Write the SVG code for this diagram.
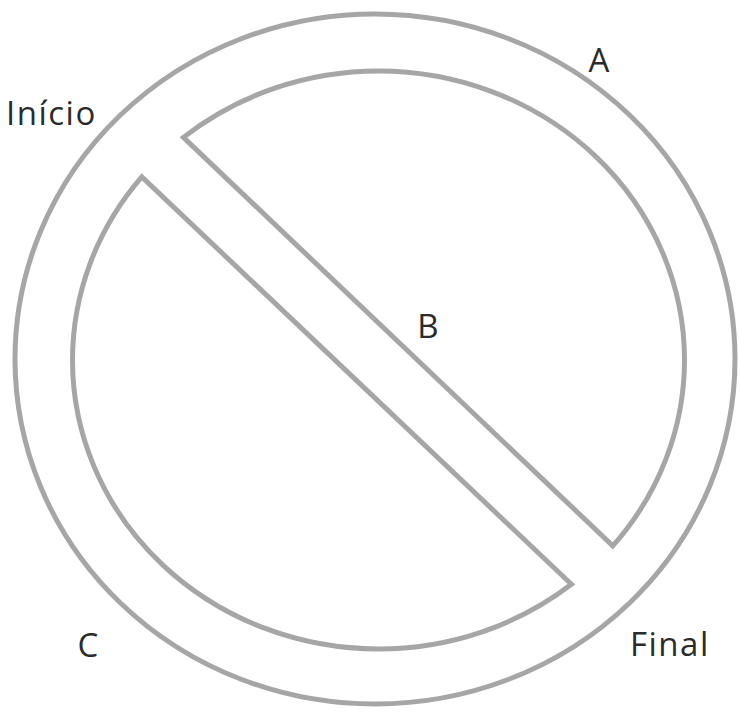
<svg xmlns="http://www.w3.org/2000/svg" width="740" height="713" viewBox="0 0 740 713">
<style>
.ln{fill:none;stroke:#a6a6a6;stroke-width:5;stroke-linejoin:miter;stroke-miterlimit:20}
.t{font-family:"Open Sans","Noto Sans",sans-serif;font-size:33px;fill:#2b2b2b}
.m{text-anchor:middle}
</style>
<rect width="740" height="713" fill="#ffffff"/>
<g id="outer">
<ellipse class="ln" cx="375" cy="359" rx="360" ry="345"/>
</g>
<g id="upper">
<path class="ln" d="M183.4,137.4 A306,289 0 0 1 378.5,71 A306,289 0 0 1 684.5,360 A306,289 0 0 1 612.8,545.9 Z"/>
</g>
<g id="lower">
<path class="ln" d="M571.4,584.3 A306,289 0 0 1 378.5,649 A306,289 0 0 1 72.5,360 A306,289 0 0 1 141.8,176.9 Z"/>
</g>
<g id="connectors"></g>
<g id="labels">
<text class="t" x="6" y="125" letter-spacing="1.5">Início</text>
<text class="t m" x="599" y="72">A</text>
<text class="t m" x="428" y="338">B</text>
<text class="t m" x="88" y="657">C</text>
<text class="t" x="630" y="656" letter-spacing="1.5">Final</text>
</g>
</svg>
